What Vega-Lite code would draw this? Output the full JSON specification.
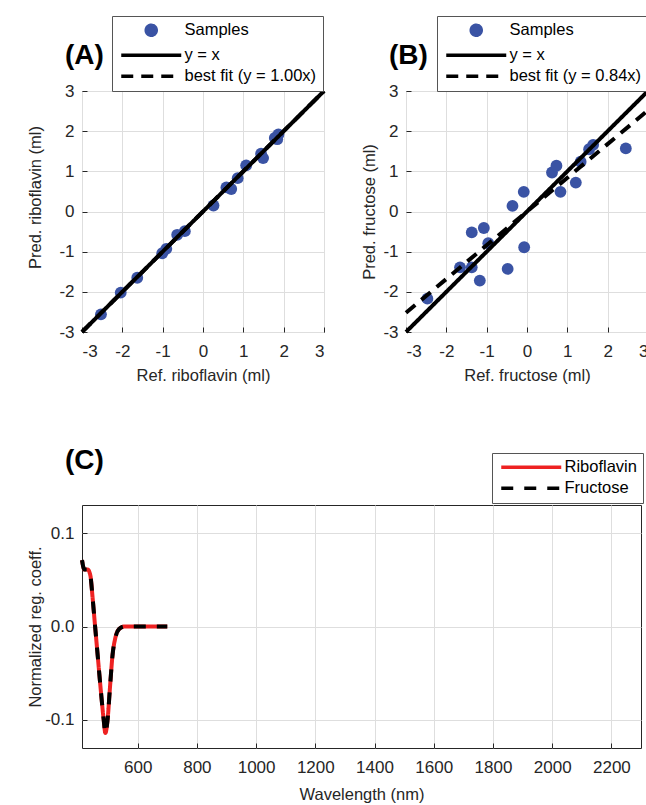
{
  "$schema": "https://vega.github.io/schema/vega-lite/v6.json",
  "background": "white",
  "padding": {"left": 26, "top": 15, "right": 0, "bottom": 0},
  "config": {
    "font": "Liberation Sans",
    "locale": {"number": {"decimal": ".", "thousands": "", "grouping": [3], "currency": ["$", ""], "minus": "-"}},
    "view": {"stroke": "#262626", "strokeWidth": 1},
    "axis": {"domain": false, "grid": true, "gridColor": "#dedede", "gridWidth": 1, "ticks": true, "tickSize": -5, "tickColor": "#262626", "labelPadding": 13, "labelFont": "Liberation Sans", "labelFontSize": 17, "labelColor": "#262626", "titleFont": "Liberation Sans", "titleFontSize": 16.5, "titleFontWeight": "normal", "titleColor": "#262626"},
    "axisX": {"labelPadding": 16},
    "legend": {"labelFont": "Liberation Sans", "labelFontSize": 16.5, "labelColor": "black", "strokeColor": "#555555", "fillColor": "white", "padding": 6, "rowPadding": 4, "symbolStrokeWidth": 3.5, "symbolSize": 100, "symbolOffset": 25, "labelOffset": 25},
    "title": {"font": "Liberation Sans", "fontSize": 28, "fontWeight": "bold", "color": "black", "anchor": "start", "baseline": "alphabetic", "frame": "group"}
  },
  "datasets": {
    "ribo": [
      {"ref": -2.53, "pred": -2.56}, {"ref": -2.04, "pred": -2.02}, {"ref": -1.63, "pred": -1.65},
      {"ref": -1.01, "pred": -1.04}, {"ref": -0.91, "pred": -0.93}, {"ref": -0.64, "pred": -0.58},
      {"ref": -0.45, "pred": -0.49}, {"ref": 0.26, "pred": 0.15}, {"ref": 0.58, "pred": 0.60},
      {"ref": 0.70, "pred": 0.56}, {"ref": 0.86, "pred": 0.83}, {"ref": 1.07, "pred": 1.15},
      {"ref": 1.44, "pred": 1.44}, {"ref": 1.49, "pred": 1.33}, {"ref": 1.78, "pred": 1.83},
      {"ref": 1.87, "pred": 1.92}, {"ref": 1.84, "pred": 1.80}
    ],
    "fruc": [
      {"ref": -2.47, "pred": -2.17}, {"ref": -1.66, "pred": -1.39}, {"ref": -1.37, "pred": -1.39},
      {"ref": -1.37, "pred": -0.52}, {"ref": -1.17, "pred": -1.72}, {"ref": -1.07, "pred": -0.41},
      {"ref": -0.96, "pred": -0.79}, {"ref": -0.48, "pred": -1.43}, {"ref": -0.36, "pred": 0.14},
      {"ref": -0.07, "pred": -0.89}, {"ref": -0.08, "pred": 0.49}, {"ref": 0.62, "pred": 0.97},
      {"ref": 0.73, "pred": 1.14}, {"ref": 0.83, "pred": 0.49}, {"ref": 1.21, "pred": 0.72},
      {"ref": 1.33, "pred": 1.24}, {"ref": 1.54, "pred": 1.55}, {"ref": 1.64, "pred": 1.66},
      {"ref": 2.45, "pred": 1.57}
    ],
    "diag": [{"ref": -3, "pred": -3}, {"ref": 3, "pred": 3}],
    "fitA": [{"ref": -3, "pred": -3.0}, {"ref": 3, "pred": 3.0}],
    "fitB": [{"ref": -3, "pred": -2.52}, {"ref": 3, "pred": 2.52}],
    "spec": [
      {"wl": 412, "coef": 0.071}, {"wl": 420, "coef": 0.061}, {"wl": 431, "coef": 0.061},
      {"wl": 440, "coef": 0.055}, {"wl": 448, "coef": 0.030}, {"wl": 456, "coef": 0.001},
      {"wl": 465, "coef": -0.031}, {"wl": 476, "coef": -0.070}, {"wl": 485, "coef": -0.099},
      {"wl": 491, "coef": -0.114}, {"wl": 498, "coef": -0.101}, {"wl": 507, "coef": -0.063},
      {"wl": 515, "coef": -0.031}, {"wl": 524, "coef": -0.013}, {"wl": 538, "coef": -0.0025},
      {"wl": 555, "coef": 0.0}, {"wl": 600, "coef": 0.0}, {"wl": 650, "coef": 0.0}, {"wl": 700, "coef": 0.0}
    ]
  },
  "spacing": 62,
  "resolve": {
    "scale": {"color": "independent", "shape": "independent", "strokeDash": "independent"},
    "legend": {"color": "independent", "shape": "independent", "strokeDash": "independent"}
  },
  "vconcat": [
    {
      "spacing": 27,
      "resolve": {
        "scale": {"color": "independent", "shape": "independent", "strokeDash": "independent"},
        "legend": {"color": "independent", "shape": "independent", "strokeDash": "independent"}
      },
      "hconcat": [
        {
          "width": 242, "height": 241,
          "title": {"text": "(A)", "dx": -17, "offset": -54},
          "layer": [
            {
              "data": {"name": "ribo"},
              "mark": {"type": "point", "filled": true, "opacity": 1, "size": 140},
              "encoding": {
                "x": {"field": "ref", "type": "quantitative", "title": "Ref. riboflavin (ml)", "scale": {"domain": [-3, 3], "nice": false}, "axis": {"values": [-3, -2, -1, 0, 1, 2, 3], "titlePadding": 8}},
                "y": {"field": "pred", "type": "quantitative", "title": "Pred. riboflavin (ml)", "scale": {"domain": [-3, 3], "nice": false}, "axis": {"values": [-3, -2, -1, 0, 1, 2, 3], "titleX": -42, "titleY": 106, "titleAngle": 270, "titleBaseline": "alphabetic", "titleAlign": "center"}},
                "color": {"datum": "Samples", "type": "nominal", "scale": {"domain": ["Samples", "y = x", "best fit (y = 1.00x)"], "range": ["#3A53A4", "black", "black"]}, "legend": {"orient": "none", "legendX": 30, "legendY": -75, "title": null, "direction": "vertical"}},
                "shape": {"datum": "Samples", "type": "nominal", "scale": {"domain": ["Samples", "y = x", "best fit (y = 1.00x)"], "range": ["circle", "M-6,0H6", "M-6,0H6"]}, "legend": {"orient": "none", "legendX": 30, "legendY": -75, "title": null, "direction": "vertical"}}
              }
            },
            {
              "data": {"name": "diag"},
              "mark": {"type": "line", "strokeWidth": 4},
              "encoding": {
                "x": {"field": "ref", "type": "quantitative"},
                "y": {"field": "pred", "type": "quantitative"},
                "color": {"datum": "y = x", "type": "nominal"},
                "strokeDash": {"datum": "y = x", "type": "nominal", "scale": {"domain": ["Samples", "y = x", "best fit (y = 1.00x)"], "range": [[1, 0], [1, 0], [12, 8]]}, "legend": {"orient": "none", "legendX": 30, "legendY": -75, "title": null, "direction": "vertical"}}
              }
            },
            {
              "data": {"name": "fitA"},
              "mark": {"type": "line", "strokeWidth": 4},
              "encoding": {
                "x": {"field": "ref", "type": "quantitative"},
                "y": {"field": "pred", "type": "quantitative"},
                "color": {"datum": "best fit (y = 1.00x)", "type": "nominal"},
                "strokeDash": {"datum": "best fit (y = 1.00x)", "type": "nominal"}
              }
            }
          ]
        },
        {
          "width": 242, "height": 241,
          "title": {"text": "(B)", "dx": -17, "offset": -54},
          "layer": [
            {
              "data": {"name": "fruc"},
              "mark": {"type": "point", "filled": true, "opacity": 1, "size": 140},
              "encoding": {
                "x": {"field": "ref", "type": "quantitative", "title": "Ref. fructose (ml)", "scale": {"domain": [-3, 3], "nice": false}, "axis": {"values": [-3, -2, -1, 0, 1, 2, 3], "titlePadding": 8}},
                "y": {"field": "pred", "type": "quantitative", "title": "Pred. fructose (ml)", "scale": {"domain": [-3, 3], "nice": false}, "axis": {"values": [-3, -2, -1, 0, 1, 2, 3], "titleX": -32, "titleY": 120.5, "titleAngle": 270, "titleBaseline": "alphabetic", "titleAlign": "center"}},
                "color": {"datum": "Samples", "type": "nominal", "scale": {"domain": ["Samples", "y = x", "best fit (y = 0.84x)"], "range": ["#3A53A4", "black", "black"]}, "legend": {"orient": "none", "legendX": 31, "legendY": -75, "title": null, "direction": "vertical"}},
                "shape": {"datum": "Samples", "type": "nominal", "scale": {"domain": ["Samples", "y = x", "best fit (y = 0.84x)"], "range": ["circle", "M-6,0H6", "M-6,0H6"]}, "legend": {"orient": "none", "legendX": 31, "legendY": -75, "title": null, "direction": "vertical"}}
              }
            },
            {
              "data": {"name": "diag"},
              "mark": {"type": "line", "strokeWidth": 4},
              "encoding": {
                "x": {"field": "ref", "type": "quantitative"},
                "y": {"field": "pred", "type": "quantitative"},
                "color": {"datum": "y = x", "type": "nominal"},
                "strokeDash": {"datum": "y = x", "type": "nominal", "scale": {"domain": ["Samples", "y = x", "best fit (y = 0.84x)"], "range": [[1, 0], [1, 0], [12, 8]]}, "legend": {"orient": "none", "legendX": 31, "legendY": -75, "title": null, "direction": "vertical"}}
              }
            },
            {
              "data": {"name": "fitB"},
              "mark": {"type": "line", "strokeWidth": 4},
              "encoding": {
                "x": {"field": "ref", "type": "quantitative"},
                "y": {"field": "pred", "type": "quantitative"},
                "color": {"datum": "best fit (y = 0.84x)", "type": "nominal"},
                "strokeDash": {"datum": "best fit (y = 0.84x)", "type": "nominal"}
              }
            }
          ]
        }
      ]
    },
    {
      "width": 559, "height": 243,
      "title": {"text": "(C)", "dx": -17, "offset": -22},
      "data": {"name": "spec"},
      "layer": [
        {
          "mark": {"type": "line", "strokeWidth": 4, "interpolate": "monotone"},
          "encoding": {
            "x": {"field": "wl", "type": "quantitative", "title": "Wavelength (nm)", "scale": {"domain": [412, 2300], "nice": false, "zero": false}, "axis": {"values": [600, 800, 1000, 1200, 1400, 1600, 1800, 2000, 2200], "format": "d", "titlePadding": 11}},
            "y": {"field": "coef", "type": "quantitative", "title": "Normalized reg. coeff.", "scale": {"domain": [-0.13, 0.13], "nice": false}, "axis": {"values": [-0.1, 0, 0.1], "format": ".1f", "titleX": -42, "titleY": 121.5, "titleAngle": 270, "titleBaseline": "alphabetic", "titleAlign": "center"}},
            "color": {"datum": "Riboflavin", "type": "nominal", "scale": {"domain": ["Riboflavin", "Fructose"], "range": ["#EE2222", "black"]}, "legend": {"orient": "none", "legendX": 410, "legendY": -52, "title": null, "direction": "vertical", "symbolType": "M-6,0H6", "rowPadding": 4}},
            "strokeDash": {"datum": "Riboflavin", "type": "nominal", "scale": {"domain": ["Riboflavin", "Fructose"], "range": [[1, 0], [12, 11]]}, "legend": {"orient": "none", "legendX": 410, "legendY": -52, "title": null, "direction": "vertical", "symbolType": "M-6,0H6", "rowPadding": 4}}
          }
        },
        {
          "mark": {"type": "line", "strokeWidth": 4, "interpolate": "monotone"},
          "encoding": {
            "x": {"field": "wl", "type": "quantitative"},
            "y": {"field": "coef", "type": "quantitative"},
            "color": {"datum": "Fructose", "type": "nominal"},
            "strokeDash": {"datum": "Fructose", "type": "nominal"}
          }
        }
      ]
    }
  ]
}
